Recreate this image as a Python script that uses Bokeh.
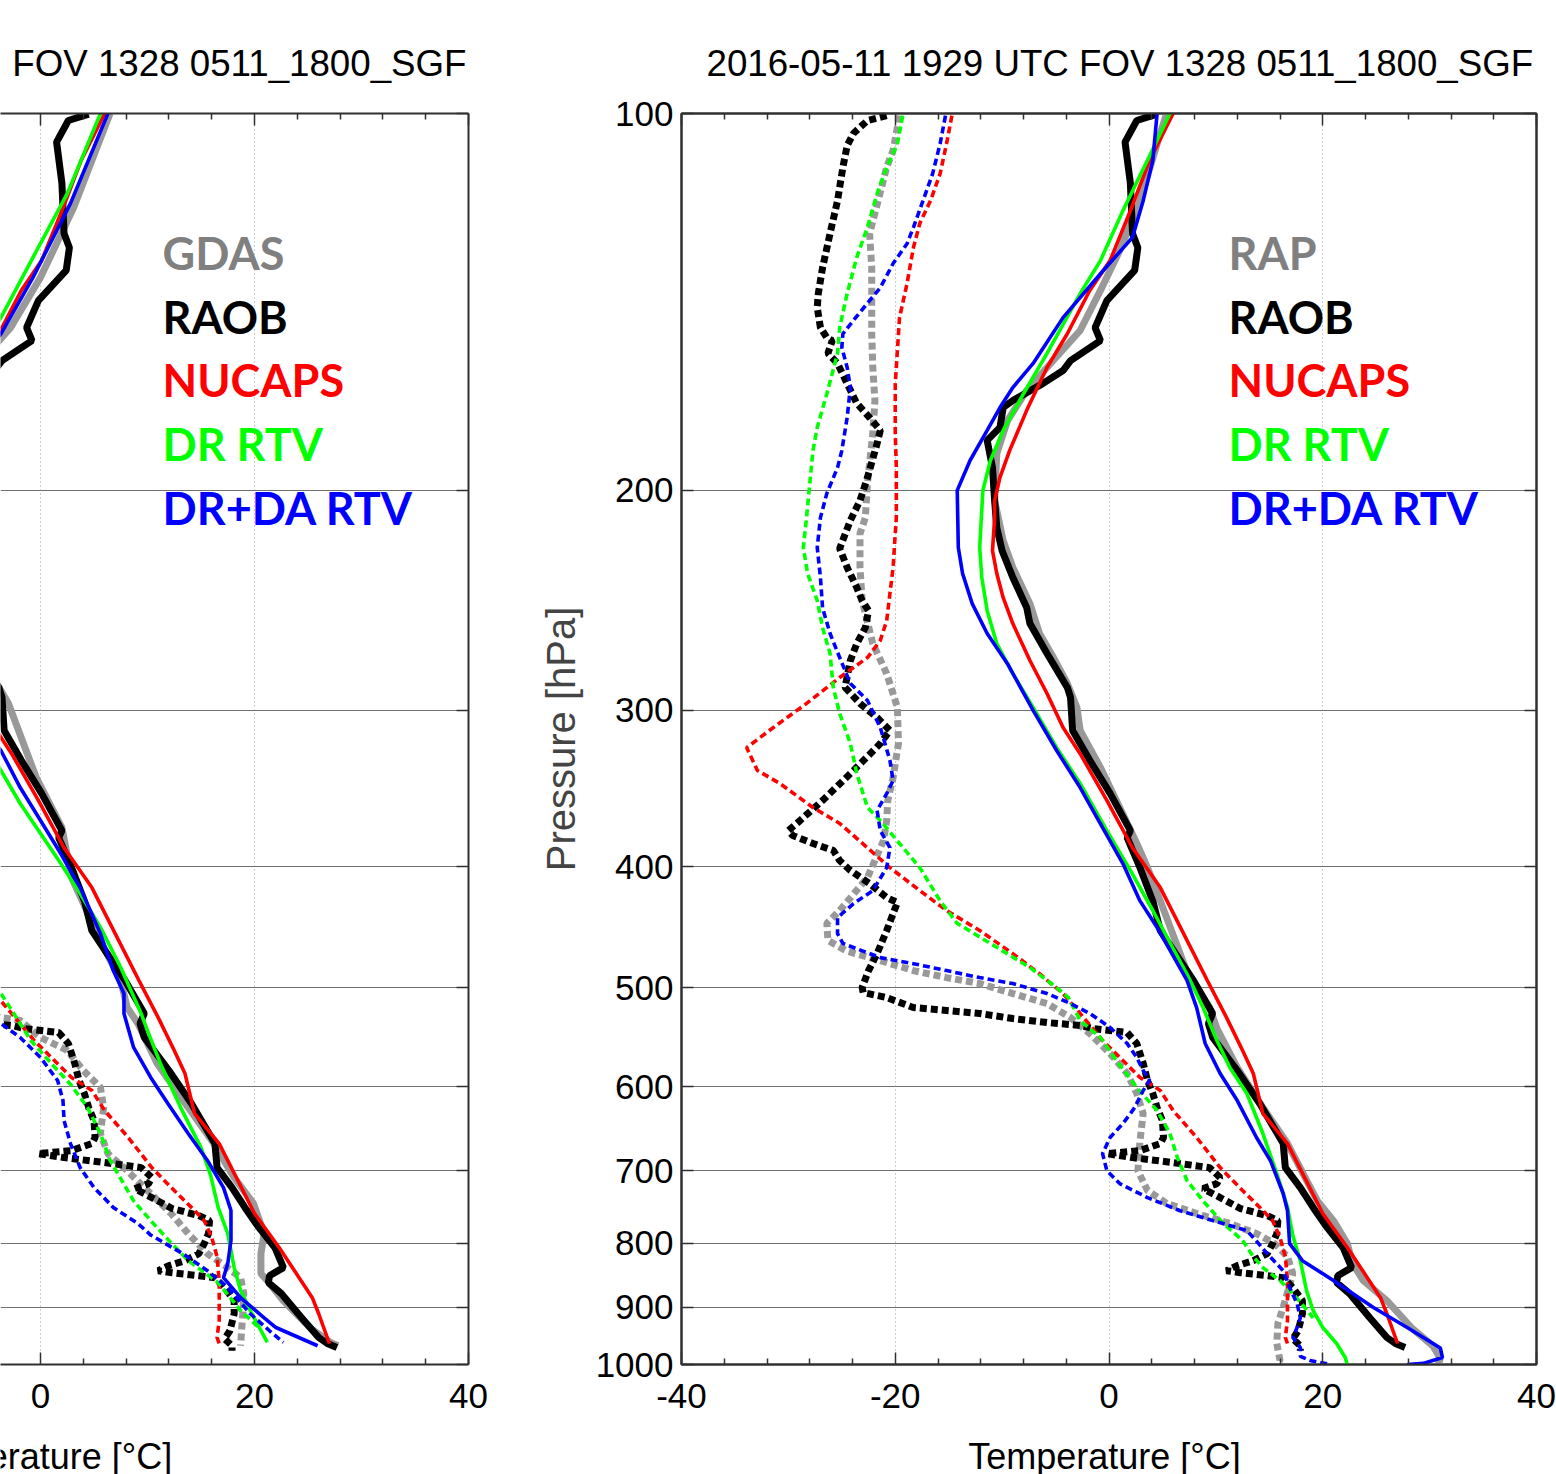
from bokeh.plotting import figure
from bokeh.models import (Range1d, LinearAxis, LogAxis, FixedTicker, Grid, Label, Title,
                          CustomJSTickFormatter, CustomLabelingPolicy)
from bokeh.layouts import row, column
from bokeh.embed import file_html
from bokeh.resources import INLINE

# ---------------- data (pressure hPa, temperature degC) ----------------
# RAOB (same sonde in both panels)
raob_t_p = [100.1, 101.3, 105.4, 113.7, 124.7, 128.0, 133.5, 141.1, 148.3, 151.9,
            157.6, 160.5, 164.4, 169.6, 171.8, 178.2, 182.5, 191.9, 203.9, 214.3,
            223.6, 234.9, 248.3, 255.7, 270.2, 287.6, 292.9, 311.3, 328.9, 349.5,
            374.3, 379.1, 400.7, 426.0, 450.0, 493.2, 524.1, 533.9, 547.8, 582.1,
            618.6, 665.9, 696.0, 722.1, 748.9, 777.0, 806.2, 836.7, 849.2, 860.0,
            877.5, 917.6, 951.5, 962.1, 969.2]
raob_t = [4.5, 2.6, 1.5, 2.0, 2.2, 2.7, 2.4, -0.2, -1.3, -0.8,
          -3.6, -4.3, -6.2, -9.0, -9.9, -10.2, -11.4, -10.9, -10.7, -10.5,
          -10.0, -9.0, -7.7, -7.4, -5.8, -3.9, -3.6, -3.4, -1.8, 0.1,
          2.0, 1.7, 2.9, 4.1, 4.8, 7.9, 9.7, 9.3, 9.7, 12.0,
          14.1, 16.3, 16.5, 17.9, 19.1, 20.4, 21.9, 22.7, 21.4, 21.3,
          22.5, 24.4, 26.0, 26.8, 27.7]
raob_td_p = [100.4, 101.3, 103.7, 106.1, 110.4, 117.4, 124.7, 132.8, 139.3, 142.9,
             148.3, 151.1, 151.9, 155.5, 158.4, 164.4, 170.5, 175.0, 179.2, 183.6,
             195.4, 203.9, 211.5, 222.7, 230.6, 239.3, 245.1, 249.7, 257.6, 265.3,
             273.7, 287.6, 296.2, 304.0, 311.3, 318.9, 335.1, 354.1, 367.4, 374.3,
             377.7, 383.3, 388.2, 395.5, 402.8, 412.6, 423.4, 427.3, 436.0, 449.9,
             469.4, 484.3, 499.7, 504.3, 509.0, 518.4, 521.2, 524.1, 529.0, 532.9,
             535.8, 538.8, 540.8, 542.8, 553.9, 574.6, 592.9, 607.3, 623.2, 638.3,
             658.5, 665.9, 674.5, 678.3, 683.3, 689.6, 696.0, 708.9, 716.8, 723.4,
             735.5, 750.5, 760.3, 767.3, 785.9, 800.5, 815.4, 826.0, 833.7, 841.4,
             844.5, 849.2, 852.3, 868.1, 889.2, 910.8, 939.8, 953.8, 966.1, 975.0]
raob_td = [-20.8, -22.6, -23.9, -24.5, -24.9, -25.4, -26.1, -26.8, -27.2, -27.3,
           -27.0, -26.4, -25.9, -26.3, -25.4, -24.5, -23.6, -22.4, -21.4, -21.7,
           -22.6, -23.3, -24.2, -25.2, -24.5, -23.6, -23.1, -22.5, -22.8, -23.6,
           -24.2, -24.7, -23.3, -21.7, -20.5, -21.4, -23.9, -26.8, -28.9, -30.0,
           -29.6, -27.7, -25.8, -25.2, -24.2, -22.4, -20.8, -19.8, -20.2, -20.8,
           -21.7, -22.5, -23.1, -23.0, -20.8, -18.3, -15.2, -12.1, -9.0, -5.8,
           -2.7, -1.5, 0.1, 1.7, 2.6, 3.2, 3.6, 4.1, 4.5, 5.0,
           5.1, 4.8, 2.9, -0.2, 2.2, 6.0, 9.4, 10.4, 10.1, 8.8,
           10.4, 12.3, 14.8, 15.8, 15.7, 15.3, 14.8, 13.5, 12.0, 11.0,
           12.3, 14.8, 16.3, 17.2, 18.1, 18.1, 17.7, 17.2, 17.9, 17.9]

# NUCAPS (same FOV in both panels)
nucaps_t_p = [100.0, 109.0, 119.6, 131.1, 138.5, 150.0, 159.6, 172.7, 186.0, 195.4,
              203.9, 210.4, 223.6, 233.2, 243.8, 255.7, 273.7, 290.8, 309.6, 324.9,
              354.1, 386.3, 415.7, 493.2, 528.1, 561.0, 585.3, 630.1, 665.9, 757.3,
              806.2, 884.3, 910.8, 962.1]
nucaps_t = [6.0, 3.8, 2.0, 0.1, -1.8, -3.9, -5.8, -7.7, -9.3, -10.2,
            -10.7, -10.7, -10.9, -10.5, -9.9, -9.0, -7.4, -5.8, -4.3, -2.7,
            -0.2, 2.2, 4.8, 9.2, 11.0, 12.5, 13.5, 14.4, 16.7, 20.0,
            22.3, 25.4, 26.0, 27.0]
nucaps_td_p = [100.4, 105.7, 111.7, 117.4, 122.4, 128.0, 136.8, 145.6, 154.7, 164.4,
               180.2, 191.9, 210.4, 216.7, 230.6, 242.0, 254.3, 263.8, 272.2, 282.4,
               296.2, 309.6, 321.3, 335.1, 343.2, 358.7, 369.4, 386.3, 400.7, 418.0,
               433.6, 449.9, 469.4, 487.1, 505.2, 524.1, 550.8, 571.5, 589.6, 603.9,
               626.6, 658.5, 696.0, 726.0, 753.2, 767.3, 791.5, 819.9, 856.8, 889.2,
               922.2, 951.5, 962.1]
nucaps_td = [-14.7, -15.2, -15.8, -16.7, -17.7, -18.3, -18.9, -19.6, -19.8, -20.0,
             -20.0, -19.9, -19.9, -20.0, -20.2, -20.5, -20.8, -21.4, -22.6, -25.2,
             -28.3, -31.4, -33.9, -32.9, -30.8, -27.7, -25.2, -22.6, -20.5, -17.7,
             -15.2, -12.1, -9.0, -6.5, -4.3, -2.7, -0.6, 1.3, 2.9, 4.8,
             6.0, 8.2, 10.4, 12.5, 14.4, 15.3, 16.0, 16.5, 16.7, 16.7,
             16.7, 16.5, 16.7]

# ---- right panel: RAP background ----
rap_t_p = [100.0, 103.7, 117.4, 128.7, 138.5, 149.1, 159.6, 166.5, 176.0, 187.0,
           203.9, 219.5, 230.6, 246.5, 260.4, 272.2, 285.5, 298.4, 311.3, 333.3,
           358.7, 383.3, 400.7, 426.0, 493.2, 518.4, 538.8, 578.9, 623.2, 665.9,
           712.8, 740.0, 767.3, 800.5, 830.6, 856.8, 889.2, 936.3, 966.1, 989.0,
           1000.0]
rap_t = [5.4, 4.8, 2.9, 1.0, -0.8, -2.7, -5.8, -7.7, -9.5, -10.5,
         -10.7, -9.9, -9.0, -7.4, -6.5, -5.2, -3.9, -3.0, -2.7, -0.8,
         1.0, 2.6, 3.6, 4.8, 7.6, 9.4, 10.1, 12.0, 14.4, 16.7,
         18.5, 19.5, 21.0, 22.3, 22.8, 23.8, 26.0, 28.4, 30.3, 31.0,
         30.8]
rap_td_p = [100.4, 107.0, 110.4, 117.4, 124.7, 132.8, 141.1, 150.0, 159.6, 169.6,
            180.2, 197.6, 210.4, 216.7, 230.6, 245.1, 265.3, 280.4, 298.4, 318.9,
            339.5, 354.1, 367.4, 381.2, 408.1, 433.6, 444.0, 458.1, 467.4, 475.5,
            484.3, 490.6, 496.0, 505.2, 514.6, 528.1, 543.8, 564.1, 585.3, 607.3,
            630.1, 662.2, 700.0, 726.0, 743.4, 757.3, 771.4, 785.9, 800.5, 819.9,
            845.9, 900.0, 927.3, 962.1, 992.6, 1000.0]
rap_td = [-19.6, -20.2, -20.8, -21.6, -22.4, -22.2, -22.2, -22.2, -22.1, -21.9,
          -22.1, -22.6, -22.8, -23.3, -23.3, -23.1, -22.1, -20.8, -19.8, -19.7,
          -20.2, -20.7, -20.8, -21.1, -22.6, -25.2, -26.4, -26.3, -24.5, -21.4,
          -18.3, -15.2, -12.1, -9.0, -5.8, -3.6, -1.8, 0.1, 1.7, 2.6,
          3.2, 2.9, 2.7, 3.6, 5.4, 8.2, 11.3, 13.8, 15.5, 16.7,
          17.2, 16.3, 15.8, 15.7, 16.0, 15.8]
r_dr_t_p = [100.0, 109.0, 119.6, 131.1, 139.3, 155.5, 167.5, 179.2, 189.4, 200.1,
            222.3, 234.9, 249.7, 265.3, 280.4, 298.4, 321.3, 343.2, 374.3, 402.8,
            433.6, 493.2, 518.4, 550.8, 578.9, 607.3, 653.7, 703.6, 748.8, 788.8,
            826.0, 874.0, 905.4, 934.2, 962.1, 987.2, 1000.0]
r_dr_t = [5.7, 3.6, 1.3, -0.8, -2.7, -5.8, -8.0, -9.9, -11.1, -11.8,
          -12.1, -11.9, -11.4, -10.5, -9.0, -7.1, -4.9, -2.7, -0.2, 2.0,
          4.1, 7.6, 8.8, 10.1, 11.3, 12.9, 14.4, 15.7, 16.7, 17.2,
          17.9, 18.5, 19.1, 20.0, 21.3, 22.1, 22.3]
r_dr_td_p = [100.4, 105.7, 110.4, 115.9, 123.3, 130.3, 139.3, 148.3, 155.5, 167.5,
             178.2, 186.0, 197.6, 210.4, 222.3, 233.2, 245.1, 257.6, 270.2, 287.6,
             301.7, 318.9, 337.0, 358.7, 367.4, 383.3, 400.7, 426.0, 444.0, 460.7,
             481.6, 499.7, 509.0, 530.9, 547.8, 571.5, 600.6, 626.6, 653.7, 683.3,
             712.8, 740.0, 771.4, 795.9, 819.9, 836.7, 856.8, 877.5, 900.0, 917.6]
r_dr_td = [-19.3, -19.8, -20.8, -21.7, -22.6, -23.6, -24.5, -25.2, -25.4, -26.4,
           -27.3, -27.7, -28.0, -28.3, -28.6, -28.2, -27.3, -26.8, -26.1, -25.8,
           -25.2, -24.2, -23.6, -22.6, -21.4, -19.6, -17.7, -15.8, -14.2, -11.1,
           -7.4, -4.9, -3.8, -2.7, -0.8, 0.7, 2.6, 4.5, 5.7, 6.4,
           7.3, 8.8, 10.7, 12.5, 13.5, 14.4, 16.0, 17.2, 18.3, 19.1]
r_da_t_p = [100.0, 109.0, 117.4, 125.6, 134.3, 145.6, 158.4, 165.6, 171.8, 179.2,
            189.4, 200.1, 222.3, 233.2, 246.5, 260.4, 275.3, 300.0, 323.0, 345.8,
            372.2, 397.7, 426.0, 447.3, 493.2, 518.4, 553.9, 585.3, 615.2, 658.5,
            686.9, 730.0, 753.2, 800.5, 826.0, 856.8, 900.0, 934.2, 970.0, 987.2,
            998.0, 1000.0]
r_da_t = [4.5, 4.1, 3.2, 2.2, -0.8, -4.3, -7.1, -9.0, -10.2, -11.4,
          -13.0, -14.2, -14.1, -13.7, -12.8, -11.4, -9.5, -7.1, -4.9, -2.7,
          -0.6, 1.3, 2.9, 4.5, 7.3, 8.2, 9.0, 10.4, 12.0, 13.8,
          15.1, 16.3, 16.7, 16.9, 18.1, 21.0, 24.7, 27.9, 31.0, 31.2,
          29.4, 27.9]
r_da_td_p = [100.4, 105.7, 111.7, 117.4, 123.3, 127.1, 131.8, 137.8, 141.8, 146.3,
             150.0, 153.8, 159.6, 165.6, 175.0, 186.0, 191.9, 201.2, 210.4, 222.3,
             234.9, 248.4, 260.4, 272.2, 285.5, 294.6, 309.6, 328.9, 341.3, 349.7,
             360.6, 374.3, 386.3, 400.7, 418.0, 428.1, 439.3, 452.4, 460.7, 472.9,
             478.2, 484.3, 490.6, 496.0, 505.2, 514.6, 524.1, 537.8, 553.9, 568.3,
             582.1, 592.9, 603.9, 623.2, 630.1, 641.8, 658.5, 678.3, 700.0, 716.8,
             735.5, 753.2, 767.3, 781.4, 800.5, 815.4, 841.4, 868.1, 894.0, 917.6,
             934.2, 951.5, 969.2, 985.0, 992.6, 998.5]
r_da_td = [-15.3, -15.8, -16.5, -17.4, -18.3, -18.9, -20.2, -21.4, -22.6, -23.9,
           -24.9, -25.0, -24.5, -24.2, -24.5, -25.0, -25.4, -26.4, -27.0, -27.3,
           -27.0, -26.8, -26.1, -25.2, -24.2, -22.6, -21.4, -20.5, -20.2, -20.8,
           -21.7, -21.4, -20.5, -20.8, -22.1, -23.9, -25.4, -25.4, -24.9, -21.4,
           -18.3, -15.2, -12.1, -9.0, -5.8, -3.6, -1.8, 0.1, 1.7, 2.6,
           3.2, 3.8, 3.2, 2.4, 2.0, 1.3, 0.1, -0.6, -0.2, 1.0,
           3.6, 6.6, 9.7, 12.9, 14.0, 14.8, 16.3, 16.9, 17.6, 17.9,
           17.6, 17.2, 17.9, 17.9, 18.8, 20.4]

# ---- left panel: GDAS background ----
gdas_t_p = [100.0, 118.9, 135.2, 148.3, 165.0, 185.0, 205.0, 225.0, 250.0, 275.0,
            296.2, 339.5, 372.2, 408.1, 464.2, 493.2, 518.4, 533.9, 574.6, 623.2,
            665.9, 708.9, 743.4, 785.9, 815.4, 845.9, 856.8, 889.2, 936.3, 960.0,
            966.1]
gdas_t = [6.5, 3.1, 0.0, -2.8, -7.5, -10.5, -11.0, -10.0, -7.8, -5.2,
          -3.0, -0.4, 2.0, 2.9, 5.9, 7.5, 8.1, 9.1, 10.9, 13.8,
          16.2, 18.1, 19.9, 20.9, 20.6, 20.6, 21.2, 22.7, 25.3, 27.1,
          27.8]
gdas_td_p = [100.0, 150.0, 200.0, 250.0, 300.0, 350.0, 400.0, 450.0, 480.0, 505.0,
             528.1, 530.9, 547.8, 561.0, 582.1, 600.6, 623.2, 653.7, 678.3, 700.0,
             726.0, 757.3, 785.9, 815.4, 836.7, 852.3, 877.5, 910.8, 966.1]
gdas_td = [-20.0, -22.0, -23.0, -22.0, -20.0, -21.0, -22.0, -24.0, -20.0, -9.0,
           -3.7, -1.9, 0.0, 2.5, 4.0, 5.6, 5.9, 5.6, 6.3, 8.1,
           10.0, 12.2, 13.8, 15.6, 17.5, 18.7, 19.0, 18.9, 18.7]
l_dr_t_p = [100.0, 115.9, 130.3, 145.6, 160.0, 180.0, 200.0, 222.0, 250.0, 280.0,
            310.0, 335.1, 356.1, 376.3, 397.7, 420.3, 447.3, 481.6, 524.1, 540.8,
            574.6, 623.2, 670.9, 706.0, 748.9, 785.9, 811.0, 836.7, 872.7, 905.4,
            960.0]
l_dr_t = [5.6, 2.5, -0.7, -3.7, -6.5, -9.5, -11.2, -11.8, -10.8, -8.5,
          -5.8, -3.7, -1.9, 0.0, 1.9, 3.7, 5.6, 7.5, 9.4, 10.0,
          11.2, 13.1, 15.0, 15.9, 16.6, 17.5, 17.8, 18.1, 18.7, 19.6,
          21.2]
l_dr_td_p = [100.0, 150.0, 200.0, 250.0, 300.0, 350.0, 400.0, 450.0, 480.0, 505.2,
             524.1, 550.8, 574.6, 597.0, 623.2, 653.7, 686.9, 712.8, 740.0, 767.3,
             795.9, 826.0, 860.0, 905.4, 934.2]
l_dr_td = [-19.0, -25.0, -28.0, -27.0, -25.0, -23.0, -18.0, -13.0, -8.0, -3.7,
           -2.5, -0.9, 1.0, 2.8, 4.4, 5.6, 6.5, 7.6, 8.7, 10.3,
           12.0, 13.8, 16.6, 18.7, 20.4]
l_da_t_p = [100.0, 118.0, 135.2, 150.0, 170.0, 200.0, 225.0, 260.0, 290.0, 310.0,
            323.0, 345.8, 367.4, 390.6, 415.7, 452.4, 484.3, 505.2, 524.1, 557.9,
            589.6, 618.6, 653.7, 686.9, 722.1, 753.2, 795.9, 830.6, 852.3, 884.3,
            917.6, 934.2, 966.1]
l_da_t = [6.3, 2.8, -0.7, -3.7, -9.0, -12.5, -12.5, -10.0, -7.0, -5.2,
          -3.7, -1.9, 0.0, 1.9, 3.7, 5.6, 6.8, 7.8, 7.8, 8.7,
          10.3, 11.9, 13.8, 15.6, 17.1, 17.8, 17.8, 17.5, 17.1, 18.7,
          20.9, 22.0, 25.9]
l_da_td_p = [100.0, 150.0, 200.0, 250.0, 300.0, 350.0, 400.0, 440.0, 480.0, 510.0,
             533.9, 547.8, 568.3, 592.9, 615.2, 638.3, 665.9, 696.0, 722.1, 748.9,
             771.4, 788.0, 815.4, 841.4, 868.1, 910.8, 939.8, 960.0]
l_da_td = [-15.0, -25.0, -26.5, -26.5, -22.0, -21.0, -21.0, -25.0, -16.0, -7.0,
           -3.7, -1.9, 0.0, 1.6, 2.1, 2.2, 2.8, 3.7, 5.0, 6.8,
           9.1, 10.3, 13.3, 15.6, 17.5, 19.6, 21.4, 22.7]

legend_left = ["GDAS", "RAOB", "NUCAPS", "DR RTV", "DR+DA RTV"]
legend_right = ["RAP", "RAOB", "NUCAPS", "DR RTV", "DR+DA RTV"]
legend_colors = ["#808080", "#000000", "#ff0000", "#00ff00", "#0000ff"]
x_major = [-40, -20, 0, 20, 40]
x_minor = [-36, -32, -28, -24, -16, -12, -8, -4, 4, 8, 12, 16, 24, 28, 32, 36]
p_ticks = [100, 200, 300, 400, 500, 600, 700, 800, 900, 1000]
p_grid = [200, 300, 400, 500, 600, 700, 800, 900]
title_left = "FOV 1328 0511_1800_SGF"
title_right = "2016-05-11 1929 UTC FOV 1328 0511_1800_SGF"
xlabel = "Temperature [\u00b0C]"
ylabel = "Pressure [hPa]"

# ---------------- styling ----------------
SANS = "Liberation Sans"
LEGFONT = "Lato"
FRAME = "#303030"
GRAY = "#999999"
FIG_H = 1434
NO_LABELS = CustomLabelingPolicy(code="for (const i of Array.from(indices)) { indices.unset(i) }\nreturn indices")


def base_fig(width, x0, x1, mbl, mbr):
    p = figure(width=width, height=FIG_H, x_range=Range1d(x0, x1), y_range=Range1d(1000, 100),
               y_axis_type="log", x_axis_location=None, y_axis_location=None, title=None,
               output_backend="svg", toolbar_location=None,
               min_border_left=mbl, min_border_right=mbr, min_border_top=113,
               min_border_bottom=FIG_H - 113 - 1251)
    p.background_fill_color = "white"
    p.border_fill_color = "white"
    p.center = []  # drop default grids
    return p


def style_axis(ax, labels):
    ax.axis_line_color = FRAME
    ax.axis_line_width = 2
    ax.major_tick_in = 12
    ax.major_tick_out = 0
    ax.minor_tick_in = 6
    ax.minor_tick_out = 0
    ax.major_tick_line_color = FRAME
    ax.major_tick_line_width = 1.5
    ax.minor_tick_line_color = FRAME
    ax.minor_tick_line_width = 1.5
    if labels:
        ax.major_label_text_font = SANS
        ax.major_label_text_font_size = "35px"
        ax.major_label_text_color = "black"
    else:
        ax.major_label_policy = NO_LABELS
        ax.major_label_text_font_size = "1px"
        ax.major_label_standoff = 0


def add_axes(p, left_labels):
    xt = FixedTicker(ticks=x_major, minor_ticks=x_minor)
    yt = FixedTicker(ticks=p_ticks, minor_ticks=[])
    fmt = CustomJSTickFormatter(code="return Math.round(tick).toString();")
    b = LinearAxis(ticker=xt, formatter=CustomJSTickFormatter(code="return tick.toString();"))
    style_axis(b, True)
    b.major_label_standoff = 19
    p.add_layout(b, "below")
    t = LinearAxis(ticker=xt)
    style_axis(t, False)
    p.add_layout(t, "above")
    r = LogAxis(ticker=yt, formatter=fmt)
    style_axis(r, False)
    p.add_layout(r, "right")
    if left_labels:
        l = LogAxis(ticker=yt, formatter=fmt)
        style_axis(l, True)
        l.major_label_standoff = 8
        l.axis_label = ylabel
        l.axis_label_text_font = SANS
        l.axis_label_text_font_size = "40px"
        l.axis_label_text_font_style = "normal"
        l.axis_label_standoff = 10
        p.add_layout(l, "left")
    p.add_layout(Grid(dimension=1, ticker=FixedTicker(ticks=p_grid),
                      grid_line_color="#707070", grid_line_width=1.2))
    p.add_layout(Grid(dimension=0, ticker=FixedTicker(ticks=[-20, 0, 20]),
                      grid_line_color="#9a9a9a", grid_line_width=1, grid_line_dash="1 3"))


def add_title(p, top_text, top_align, top_offset):
    p.add_layout(Title(text=top_text, align=top_align, offset=top_offset, standoff=52,
                       text_font=SANS, text_font_size="36.7px", text_font_style="normal",
                       text_color="black"), "above")


def draw(p, t_p, t, td_p, td, color, thick):
    w = 7 if thick else 3.6
    p.line(td, td_p, line_color=color, line_width=w, line_dash="7 4")
    p.line(t, t_p, line_color=color, line_width=w)


def legend(p, names, x):
    ys = [1112, 1048, 985, 921, 857]
    for name, c, y in zip(names, legend_colors, ys):
        p.add_layout(Label(x=x, y=y, x_units="screen", y_units="screen", text=name,
                           text_font=LEGFONT, text_font_style="bold", text_font_size="45px",
                           text_color=c, text_baseline="alphabetic"))


# ---- left panel (cropped at the window edge) ----
L = base_fig(500, -3.74, 40, 0, 32)
L.outline_line_color = None
add_axes(L, False)
draw(L, gdas_t_p, gdas_t, gdas_td_p, gdas_td, GRAY, True)
draw(L, raob_t_p, raob_t, raob_td_p, raob_td, "black", True)
draw(L, nucaps_t_p, nucaps_t, nucaps_td_p, nucaps_td, "#ff0000", False)
draw(L, l_dr_t_p, l_dr_t, l_dr_td_p, l_dr_td, "#00ff00", False)
draw(L, l_da_t_p, l_da_t, l_da_td_p, l_da_td, "#0000ff", False)
legend(L, legend_left, 162)
add_title(L, title_left, "right", 2)

# ---- right panel ----
R = base_fig(1056, -40, 40, 181, 20)
R.outline_line_color = FRAME
R.outline_line_width = 2
add_axes(R, True)
draw(R, rap_t_p, rap_t, rap_td_p, rap_td, GRAY, True)
draw(R, raob_t_p, raob_t, raob_td_p, raob_td, "black", True)
draw(R, nucaps_t_p, nucaps_t, nucaps_td_p, nucaps_td, "#ff0000", False)
draw(R, r_dr_t_p, r_dr_t, r_dr_td_p, r_dr_td, "#00ff00", False)
draw(R, r_da_t_p, r_da_t, r_da_td_p, r_da_td, "#0000ff", False)
legend(R, legend_right, 547)
add_title(R, title_right, "left", 25)

# ---- strip under both panels carrying the x-axis titles (cut by the window edge) ----
S = figure(width=1556, height=1474 - FIG_H, x_range=Range1d(0, 1556), y_range=Range1d(0, 1474 - FIG_H),
           x_axis_location=None, y_axis_location=None, title=None, output_backend="svg",
           toolbar_location=None, min_border_left=0, min_border_right=0, min_border_top=0,
           min_border_bottom=0)
S.outline_line_color = None
S.center = []
S.border_fill_color = "white"
for cx in (35.5, 1104):
    S.add_layout(Label(x=cx, y=18, text=xlabel, text_font=SANS, text_font_size="36px",
                       text_color="black", text_align="center", text_baseline="alphabetic"))

layout = column(row(L, R), S)
open("out.html", "w").write(file_html(layout, INLINE))
